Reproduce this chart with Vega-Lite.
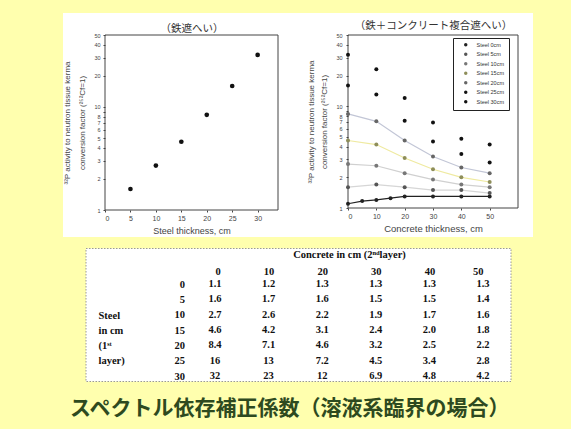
{
  "$schema": "https://vega.github.io/schema/vega-lite/v6.json",
  "background": "#FFFFAE",
  "padding": {"left": 63, "top": 13, "right": 38, "bottom": 10},
  "bounds": "flush",
  "center": true,
  "spacing": 11,
  "title": {
    "text": "スペクトル依存補正係数（溶液系臨界の場合）",
    "orient": "bottom", "anchor": "start", "dx": 7, "offset": 16,
    "fontSize": 21, "font": "Noto Sans CJK JP", "fontWeight": "bold", "color": "#2E4A1F"
  },
  "datasets": {
    "f": [
      {"steel": 0, "concrete": 0, "factor": 1.1},
      {"steel": 0, "concrete": 5, "factor": 1.17},
      {"steel": 0, "concrete": 10, "factor": 1.2},
      {"steel": 0, "concrete": 15, "factor": 1.25},
      {"steel": 0, "concrete": 20, "factor": 1.3},
      {"steel": 0, "concrete": 30, "factor": 1.3},
      {"steel": 0, "concrete": 40, "factor": 1.3},
      {"steel": 0, "concrete": 50, "factor": 1.3},
      {"steel": 5, "concrete": 0, "factor": 1.6},
      {"steel": 5, "concrete": 10, "factor": 1.7},
      {"steel": 5, "concrete": 20, "factor": 1.6},
      {"steel": 5, "concrete": 30, "factor": 1.5},
      {"steel": 5, "concrete": 40, "factor": 1.5},
      {"steel": 5, "concrete": 50, "factor": 1.4},
      {"steel": 10, "concrete": 0, "factor": 2.7},
      {"steel": 10, "concrete": 10, "factor": 2.6},
      {"steel": 10, "concrete": 20, "factor": 2.2},
      {"steel": 10, "concrete": 30, "factor": 1.9},
      {"steel": 10, "concrete": 40, "factor": 1.7},
      {"steel": 10, "concrete": 50, "factor": 1.6},
      {"steel": 15, "concrete": 0, "factor": 4.6},
      {"steel": 15, "concrete": 10, "factor": 4.2},
      {"steel": 15, "concrete": 20, "factor": 3.1},
      {"steel": 15, "concrete": 30, "factor": 2.4},
      {"steel": 15, "concrete": 40, "factor": 2.0},
      {"steel": 15, "concrete": 50, "factor": 1.8},
      {"steel": 20, "concrete": 0, "factor": 8.4},
      {"steel": 20, "concrete": 10, "factor": 7.1},
      {"steel": 20, "concrete": 20, "factor": 4.6},
      {"steel": 20, "concrete": 30, "factor": 3.2},
      {"steel": 20, "concrete": 40, "factor": 2.5},
      {"steel": 20, "concrete": 50, "factor": 2.2},
      {"steel": 25, "concrete": 0, "factor": 16},
      {"steel": 25, "concrete": 10, "factor": 13},
      {"steel": 25, "concrete": 20, "factor": 7.2},
      {"steel": 25, "concrete": 30, "factor": 4.5},
      {"steel": 25, "concrete": 40, "factor": 3.4},
      {"steel": 25, "concrete": 50, "factor": 2.8},
      {"steel": 30, "concrete": 0, "factor": 32},
      {"steel": 30, "concrete": 10, "factor": 23},
      {"steel": 30, "concrete": 20, "factor": 12},
      {"steel": 30, "concrete": 30, "factor": 6.9},
      {"steel": 30, "concrete": 40, "factor": 4.8},
      {"steel": 30, "concrete": 50, "factor": 4.2}
    ]
  },
  "vconcat": [
    {
      "width": 470,
      "height": 224,
      "view": {"fill": "white", "stroke": null},
      "layer": [
        {
          "layer": [
            {
              "data": {"values": [{}]},
              "mark": {"type": "rect", "fill": "transparent", "stroke": "#444", "strokeWidth": 1},
              "encoding": {
                "x": {"datum": 0, "type": "quantitative",
                  "axis": {"orient": "top", "offset": -22, "title": "（鉄遮へい）", "labels": false, "ticks": false, "domain": false, "grid": false,
                    "titlePadding": 2, "titleFont": "Noto Sans CJK JP", "titleFontSize": 10.5, "titleFontWeight": "normal", "titleColor": "#333"}},
                "x2": {"datum": 34},
                "y": {"datum": 1, "type": "quantitative", "axis": null},
                "y2": {"datum": 50}
              }
            },
            {
              "data": {"name": "f"},
              "transform": [{"filter": "datum.concrete == 0 && datum.steel > 0"}],
              "mark": {"type": "point", "filled": true, "color": "#111", "size": 22, "opacity": 1},
              "encoding": {
                "x": {"field": "steel", "type": "quantitative",
                  "scale": {"domain": [0, 34], "range": [42, 215], "nice": false, "zero": false},
                  "axis": {"orient": "bottom", "offset": -27, "values": [0, 5, 10, 15, 20, 25, 30], "title": "Steel thickness, cm",
                    "domain": false, "grid": false, "tickSize": 2, "labelFontSize": 7, "labelPadding": 2, "titleFontSize": 9, "titlePadding": 5}},
                "y": {"field": "factor", "type": "quantitative",
                  "scale": {"type": "log", "domain": [1, 50], "range": [197, 22], "nice": false},
                  "axis": {"orient": "left", "offset": -42, "values": [1, 2, 3, 4, 5, 6, 7, 8, 9, 10, 20, 30, 40, 50], "format": "~g",
                    "title": ["³²P activity to neutron tissue kerma", "conversion factor (²⁵²Cf=1)"],
                    "domain": false, "grid": false, "tickSize": 2, "labelFontSize": 5.5, "labelPadding": 3, "titleFontSize": 8, "titleLineHeight": 15, "titlePadding": 7}}
              }
            }
          ],
          "resolve": {"axis": {"x": "independent", "y": "independent"}}
        },
        {
          "layer": [
            {
              "data": {"values": [{}]},
              "mark": {"type": "rect", "fill": "transparent", "stroke": "#444", "strokeWidth": 1},
              "encoding": {
                "x": {"datum": 0, "type": "quantitative",
                  "axis": {"orient": "top", "offset": -22, "title": "（鉄＋コンクリート複合遮へい）", "labels": false, "ticks": false, "domain": false, "grid": false,
                    "titlePadding": 5, "titleFont": "Noto Sans CJK JP", "titleFontSize": 10.5, "titleFontWeight": "normal", "titleColor": "#333"}},
                "x2": {"datum": 60},
                "y": {"datum": 1, "type": "quantitative", "axis": null},
                "y2": {"datum": 50}
              }
            },
            {
              "data": {"name": "f"},
              "transform": [{"filter": "datum.steel <= 20"}],
              "mark": {"type": "line", "strokeWidth": 1.2},
              "encoding": {
                "x": {"field": "concrete", "type": "quantitative", "axis": null},
                "y": {"field": "factor", "type": "quantitative", "axis": null},
                "stroke": {"field": "steel", "type": "ordinal",
                  "scale": {"domain": [0, 5, 10, 15, 20], "range": ["#222222", "#d6d6d6", "#d0d0d0", "#efeaa0", "#c2c6d6"]},
                  "legend": null}
              }
            },
            {
              "data": {"name": "f"},
              "mark": {"type": "point", "filled": true, "size": 16, "opacity": 1},
              "encoding": {
                "x": {"field": "concrete", "type": "quantitative",
                  "scale": {"domain": [0, 60], "range": [285, 455], "nice": false, "zero": false},
                  "axis": {"orient": "bottom", "offset": -29, "values": [0, 10, 20, 30, 40, 50], "title": "Concrete thickness, cm",
                    "domain": false, "grid": false, "tickSize": 2, "labelFontSize": 7, "labelPadding": 2, "titleFontSize": 9.5, "titlePadding": 4}},
                "y": {"field": "factor", "type": "quantitative",
                  "scale": {"type": "log", "domain": [1, 50], "range": [195, 22], "nice": false},
                  "axis": {"orient": "left", "offset": -285, "values": [1, 2, 3, 4, 5, 6, 7, 8, 9, 10, 20, 30, 40, 50], "format": "~g",
                    "title": ["³²P activity to neutron tissue kerma", "conversion factor (²⁵²Cf=1)"],
                    "domain": false, "grid": false, "tickSize": 2, "labelFontSize": 5.5, "labelPadding": 4, "titleFontSize": 8, "titleLineHeight": 13, "titlePadding": 7}},
                "fill": {"field": "steel", "type": "ordinal",
                  "scale": {"domain": [0, 5, 10, 15, 20, 25, 30], "range": ["#222222", "#555555", "#777777", "#8e8e5a", "#666666", "#111111", "#111111"]},
                  "legend": {"orient": "none", "legendX": 390, "legendY": 25, "title": null,
                    "labelExpr": "'Steel ' + datum.label + 'cm'", "labelFontSize": 5.5, "labelFont": "Liberation Sans", "labelColor": "#333",
                    "symbolSize": 12, "symbolType": "circle", "rowPadding": 2.5, "padding": 4,
                    "strokeColor": "#222", "fillColor": "white", "symbolOffset": 6, "labelOffset": 8}}
              }
            }
          ],
          "resolve": {"axis": {"x": "independent", "y": "independent"}}
        }
      ],
      "resolve": {"scale": {"x": "independent", "y": "independent"}, "axis": {"x": "independent", "y": "independent"}}
    },
    {
      "width": 425,
      "height": 133,
      "view": {"fill": "white", "stroke": "#999999", "strokeDash": [1.5, 1.5], "strokeWidth": 1},
      "data": {"name": "f"},
      "transform": [{"filter": "datum.concrete % 10 == 0"}],
      "mark": {"type": "text", "font": "Liberation Serif", "fontSize": 10.5, "fontWeight": "bold", "color": "#111"},
      "encoding": {
        "x": {"field": "concrete", "type": "quantitative",
          "scale": {"domain": [0, 50], "range": [129.5, 397.5], "nice": false, "zero": false},
          "axis": {"orient": "top", "offset": -30, "values": [0, 10, 20, 30, 40, 50], "title": "Concrete in cm   (2ⁿᵈlayer)",
            "labelPadding": 2, "ticks": false, "domain": false, "grid": false, "titlePadding": 7,
            "labelFont": "Liberation Serif", "labelFontSize": 10.5, "labelFontWeight": "bold", "labelColor": "#111",
            "titleFont": "Liberation Serif", "titleFontSize": 10.5, "titleFontWeight": "bold", "titleColor": "#111"}},
        "y": {"field": "steel", "type": "quantitative",
          "scale": {"domain": [0, 30], "range": [36, 128], "nice": false, "zero": false},
          "axis": {"orient": "left", "offset": -102, "values": [0, 5, 10, 15, 20, 25, 30],
            "labelPadding": 3, "ticks": false, "domain": false, "grid": false,
            "labelFont": "Liberation Serif", "labelFontSize": 10.5, "labelFontWeight": "bold", "labelColor": "#111",
            "title": ["Steel", "in cm", "(1ˢᵗ", "layer)"], "titleAngle": 0, "titleAlign": "left", "titleBaseline": "top",
            "titleX": -89.5, "titleY": 62, "titleLineHeight": 15.3,
            "titleFont": "Liberation Serif", "titleFontSize": 10.5, "titleFontWeight": "bold", "titleColor": "#111"}},
        "text": {"field": "factor", "type": "quantitative", "format": ".2r"}
      }
    }
  ],
  "config": {
    "view": {"stroke": null},
    "axis": {"labelFont": "Liberation Sans", "titleFont": "Liberation Sans", "labelColor": "#444", "titleColor": "#444",
      "tickColor": "#444", "domainColor": "#444", "titleFontWeight": "normal"}
  }
}
